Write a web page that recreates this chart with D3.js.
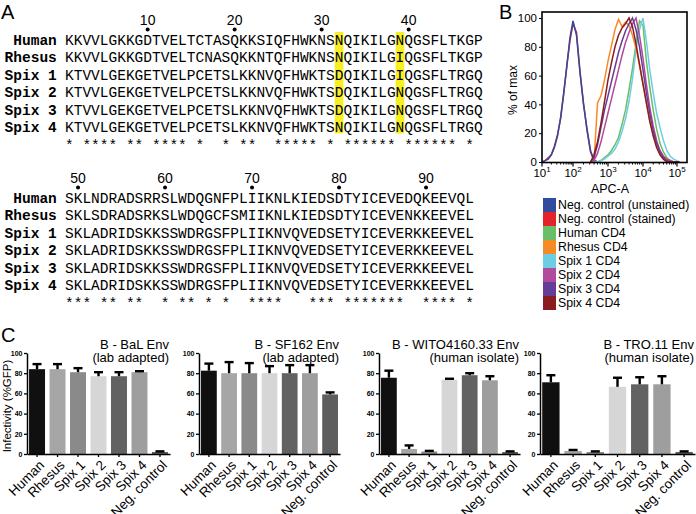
<html>
<head>
<meta charset="utf-8">
<script src="https://d3js.org/d3.v7.min.js"></script>
<style>
body { margin: 0; background: #fff; }
svg { display: block; font-family: "Liberation Sans", Arial, sans-serif; }
.mono { font-family: "Liberation Mono", "Courier New", monospace; }
</style>
</head>
<body>
<script>
// ---------- panel A : alignment ----------
var seqNames = ["Human", "Rhesus", "Spix 1", "Spix 2", "Spix 3", "Spix 4"];
var seqBlock1 = [
  "KKVVLGKKGDTVELTCTASQKKSIQFHWKNSNQIKILGNQGSFLTKGP",
  "KKVVLGKKGDTVELTCNASQKKNTQFHWKNSNQIKILGIQGSFLTKGP",
  "KTVVLGEKGETVELPCETSLKKNVQFHWKTSDQIKILGIQGSFLTRGQ",
  "KTVVLGEKGETVELPCETSLKKNVQFHWKTSDQIKILGNQGSFLTRGQ",
  "KTVVLGEKGETVELPCETSLKKNVQFHWKTSDQIKILGNQGSFLTRGQ",
  "KTVVLGEKGETVELPCETSLKKNVQFHWKTSNQIKILGNQGSFLTRGQ"
];
var seqBlock2 = [
  "SKLNDRADSRRSLWDQGNFPLIIKNLKIEDSDTYICEVEDQKEEVQL",
  "SKLSDRADSRKSLWDQGCFSMIIKNLKIEDSDTYICEVENKKEEVEL",
  "SKLADRIDSKKSSWDRGSFPLIIKNVQVEDSETYICEVERKKEEVEL",
  "SKLADRIDSKKSSWDRGSFPLIIKNVQVEDSETYICEVERKKEEVEL",
  "SKLADRIDSKKSSWDRGSFPLIIKNVQVEDSETYICEVERKKEEVEL",
  "SKLADRIDSKKSSWDRGSFPLIIKNVQVEDSETYICEVERKKEEVEL"
];
var block1Start = 1, block2Start = 49;
var marks1 = [10, 20, 30, 40];
var marks2 = [50, 60, 70, 80, 90];
var highlight1 = [32, 39];

// ---------- panel B : CD4 staining histograms ----------
var histLabels = ["Neg. control (unstained)", "Neg. control (stained)", "Human CD4", "Rhesus CD4",
                  "Spix 1 CD4", "Spix 2 CD4", "Spix 3 CD4", "Spix 4 CD4"];
var histColors = ["#2f4c9f", "#e3232a", "#68bf68", "#f68b26", "#6dcde2", "#b04a9c", "#663d96", "#8a1b1f"];
// log10(APC-A)
var negLog = [1.0, 1.1, 1.2, 1.3, 1.4, 1.5, 1.6, 1.7, 1.8, 1.9, 2.0, 2.1, 2.2, 2.3, 2.4, 2.5, 2.6, 2.7];
var negUnstained = [0, 1, 2, 5, 10, 18, 31, 48, 66, 86, 98, 88, 62, 40, 23, 8, 1, 0];
var negStained   = [0, 1, 3, 5, 11, 19, 30, 47, 67, 84, 96, 90, 63, 41, 22, 7, 1, 0];
var cd4Log = [2.5, 2.6, 2.7, 2.8, 2.9, 3.0, 3.1, 3.2, 3.3, 3.4, 3.5, 3.6, 3.7, 3.8, 3.9,
              4.0, 4.1, 4.2, 4.3, 4.4, 4.5, 4.6, 4.7, 4.8, 4.9, 5.0, 5.1];
var humanCd4  = [0, 0, 0, 1, 3, 5, 8, 12, 17, 26, 36, 50, 65, 82, 98, 95, 70, 52, 36, 23, 13, 7, 3, 1, 0, 0, 0];
var rhesusCd4 = [0, 0, 41, 46, 57, 70, 81, 92, 99, 94, 97, 95, 88, 79, 67, 54, 41, 29, 20, 12, 7, 4, 2, 1, 0, 0, 0];
var spix1Cd4  = [0, 0, 0, 1, 2, 4, 6, 9, 14, 21, 30, 42, 58, 78, 92, 100, 84, 64, 48, 34, 24, 15, 8, 4, 2, 1, 0];
var spix2Cd4  = [0, 1, 6, 14, 24, 34, 44, 54, 64, 74, 83, 90, 96, 100, 88, 72, 54, 38, 25, 15, 8, 4, 2, 1, 0, 0, 0];
var spix3Cd4  = [0, 3, 12, 24, 36, 46, 56, 66, 76, 84, 91, 96, 100, 92, 80, 64, 48, 34, 22, 13, 7, 3, 1, 0, 0, 0, 0];
var spix4Cd4  = [0, 5, 14, 27, 42, 57, 69, 80, 88, 93, 96, 100, 94, 82, 68, 54, 41, 28, 18, 10, 5, 2, 0, 0, 0, 0, 0];
var histTicks = [0, 20, 40, 60, 80, 100];
var decades = [1, 2, 3, 4, 5];

// ---------- panel C : infectivity ----------
var envCategories = ["Human", "Rhesus", "Spix 1", "Spix 2", "Spix 3", "Spix 4", "Neg. control"];
var envTitles = ["B - BaL Env", "B - SF162 Env", "B - WITO4160.33 Env", "B - TRO.11 Env"];
var envSubtitles = ["(lab adapted)", "(lab adapted)", "(human isolate)", "(human isolate)"];
var balMean   = [84, 84, 81, 77, 77, 81, 2];
var balErr    = [5, 5, 4, 4, 4, 1, 0.6];
var sf162Mean = [82.5, 80, 80, 80, 80, 80, 59];
var sf162Err  = [7, 11, 10, 7, 8, 8, 2];
var witoMean  = [75.5, 5, 2.5, 73.5, 78, 73, 2];
var witoErr   = [7, 3.5, 0.6, 1, 2, 4, 0.6];
var troMean   = [71, 3, 2, 66.5, 69, 69, 2];
var troErr    = [7, 1, 0.6, 9, 7, 8, 0.6];
var envTicks = [0, 20, 40, 60, 80, 100];
var barColors = ["#101010", "#a6a6a6", "#8a8a8a", "#d6d6d6", "#626262", "#9e9e9e", "#5e5e5e"];

var W = 696, H = 514;
var svg = d3.select("body").append("svg").attr("width", W).attr("height", H);
svg.append("rect").attr("width", W).attr("height", H).attr("fill", "#fff");

// panel letters
[["A", 1, 19], ["B", 499, 19], ["C", 1, 342]].forEach(function (p) {
  svg.append("text").attr("x", p[1]).attr("y", p[2]).attr("font-size", 20).text(p[0]);
});

// ===== A =====
var colX = d3.scaleLinear().domain([0, 48]).range([65, 65 + 48 * 8.7]);
var cw = colX(1) - colX(0);

function conserved(seqs) {
  var s = "";
  for (var j = 0; j < seqs[0].length; j++) {
    var c = seqs[0][j];
    s += seqs.every(function (q) { return q[j] === c; }) ? "*" : " ";
  }
  return s;
}

function drawBlock(seqs, startPos, marks, highlights, top) {
  var rowY = d3.scaleLinear().domain([0, 1]).range([top, top + 17.5]);
  var g = svg.append("g");
  highlights.forEach(function (p) {
    g.append("rect").attr("x", colX(p - startPos)).attr("width", cw)
      .attr("y", rowY(0) - 8).attr("height", rowY(5) - rowY(0) + 14)
      .attr("fill", "#f7ef22");
  });
  marks.forEach(function (p) {
    var cx = colX(p - startPos + 0.5);
    g.append("text").attr("x", cx).attr("y", top - 15).attr("text-anchor", "middle")
      .attr("font-size", 14).text(p);
    g.append("circle").attr("cx", cx).attr("cy", top - 10.5).attr("r", 2).attr("fill", "#000");
  });
  seqs.forEach(function (seq, i) {
    g.append("text").attr("class", "mono").attr("x", colX(-1) + 0.5).attr("y", rowY(i) + 4.5)
      .attr("text-anchor", "end").attr("font-weight", "bold").attr("font-size", 14.5)
      .text(seqNames[i]);
    g.selectAll(null).data(seq.split("")).enter().append("text")
      .attr("class", "mono").attr("font-size", 14.5).attr("text-anchor", "middle")
      .attr("x", function (d, j) { return colX(j + 0.5); })
      .attr("y", rowY(i) + 4.5).text(function (d) { return d; });
  });
  var stars = conserved(seqs).split("");
  g.selectAll(null).data(stars).enter().append("text")
    .attr("class", "mono").attr("font-size", 14.5).attr("text-anchor", "middle")
    .attr("x", function (d, j) { return colX(j + 0.5); })
    .attr("y", rowY(6) + 4.5).text(function (d) { return d === "*" ? "*" : ""; });
}
drawBlock(seqBlock1, block1Start, marks1, highlight1, 40);
drawBlock(seqBlock2, block2Start, marks2, [], 198);

// ===== B =====
var hx = d3.scaleLinear().domain([1, 2, 3, 4, 5, 5.42]).range([542, 573, 608, 643, 677, 687]);
var hy = d3.scaleLinear().domain([0, 100]).range([162, 18]);
var gB = svg.append("g");
gB.append("clipPath").attr("id", "hclip").append("rect")
  .attr("x", hx(1)).attr("y", 12).attr("width", hx(5.42) - hx(1)).attr("height", 151);

var histSeries = [
  [negLog, negStained, 1], [negLog, negUnstained, 0],
  [cd4Log, humanCd4, 2], [cd4Log, spix1Cd4, 4], [cd4Log, rhesusCd4, 3],
  [cd4Log, spix2Cd4, 5], [cd4Log, spix3Cd4, 6], [cd4Log, spix4Cd4, 7]
];
var hline = d3.line().x(function (d) { return hx(d[0]); }).y(function (d) { return hy(d[1]); });
var curves = gB.append("g").attr("clip-path", "url(#hclip)");
histSeries.forEach(function (s) {
  curves.append("path").attr("d", hline(d3.zip(s[0], s[1])))
    .attr("fill", "none").attr("stroke", histColors[s[2]]).attr("stroke-width", 1.5);
});
gB.append("rect").attr("x", hx(1)).attr("y", 12).attr("width", hx(5.42) - hx(1)).attr("height", 150.5)
  .attr("fill", "none").attr("stroke", "#000").attr("stroke-width", 1.6);

var yAx = gB.append("g").attr("transform", "translate(" + hx(1) + ",0)")
  .call(d3.axisLeft(hy).tickValues(histTicks).tickSize(3).tickSizeOuter(0));
yAx.select(".domain").remove();
yAx.selectAll("text").attr("font-size", 11.5).attr("font-family", "Liberation Sans, Arial").attr("dx", 1);

var minors = [];
decades.slice(0, 4).forEach(function (k) {
  for (var m = 2; m <= 9; m++) minors.push(k + Math.log10(m));
});
var xAx = gB.append("g").attr("transform", "translate(0," + 162.5 + ")");
xAx.selectAll(".mj").data(decades).enter().append("line")
  .attr("x1", hx).attr("x2", hx).attr("y1", 0).attr("y2", 4).attr("stroke", "#000").attr("stroke-width", 1.2);
xAx.selectAll(".mn").data(minors).enter().append("line")
  .attr("x1", hx).attr("x2", hx).attr("y1", 0).attr("y2", 2).attr("stroke", "#000").attr("stroke-width", 1);
decades.forEach(function (k) {
  var t = xAx.append("text").attr("x", hx(k)).attr("y", 14).attr("text-anchor", "middle").attr("font-size", 11.5);
  t.append("tspan").text("10");
  t.append("tspan").attr("dy", -5).attr("font-size", 8).text(k);
});
gB.append("text").attr("x", 610).attr("y", 193).attr("text-anchor", "middle").attr("font-size", 12.5).text("APC-A");
gB.append("text").attr("transform", "translate(517,90) rotate(-90)").attr("text-anchor", "middle")
  .attr("font-size", 12).text("% of max");

var legY = d3.scaleBand().domain(histLabels).range([198, 198 + 14 * 8]);
var leg = gB.selectAll(".leg").data(histLabels).enter().append("g");
leg.append("rect").attr("x", 543).attr("y", function (d) { return legY(d); })
  .attr("width", 13).attr("height", legY.bandwidth())
  .attr("fill", function (d, i) { return histColors[i]; });
leg.append("text").attr("x", 558).attr("y", function (d) { return legY(d) + legY.bandwidth() / 2 + 4.3; })
  .attr("font-size", 12.3).text(function (d) { return d; });

// ===== C =====
var envMeans = [balMean, sf162Mean, witoMean, troMean];
var envErrs = [balErr, sf162Err, witoErr, troErr];
var envLeft = [27, 199, 379, 540];
var envRight = [170, 340, 520, 695];
var ey = d3.scaleLinear().domain([0, 100]).range([454, 353]);

envMeans.forEach(function (means, k) {
  var g = svg.append("g");
  var bx = d3.scaleBand().domain(envCategories).range([envLeft[k], envRight[k]])
    .paddingInner(0.22).paddingOuter(0.1);
  g.selectAll(".bar").data(envCategories).enter().append("rect")
    .attr("x", function (d) { return bx(d); }).attr("width", bx.bandwidth())
    .attr("y", function (d, i) { return ey(means[i]); })
    .attr("height", function (d, i) { return ey(0) - ey(means[i]); })
    .attr("fill", function (d, i) { return barColors[i]; });
  var errs = envErrs[k];
  envCategories.forEach(function (c, i) {
    var cx = bx(c) + bx.bandwidth() / 2;
    var top = ey(means[i] + errs[i]);
    g.append("line").attr("x1", cx).attr("x2", cx).attr("y1", ey(means[i])).attr("y2", top)
      .attr("stroke", "#000").attr("stroke-width", 2.4);
    g.append("line").attr("x1", cx - 4.5).attr("x2", cx + 4.5).attr("y1", top).attr("y2", top)
      .attr("stroke", "#000").attr("stroke-width", 2.4);
  });
  var ya = g.append("g").attr("transform", "translate(" + envLeft[k] + ",0)")
    .call(d3.axisLeft(ey).tickValues(envTicks).tickSize(3).tickSizeOuter(0));
  ya.select(".domain").attr("stroke-width", 1.5);
  ya.selectAll("line").attr("stroke-width", 1.3);
  ya.selectAll("text").attr("font-size", 7).attr("font-weight", "bold").attr("dx", 1.5)
    .attr("font-family", "Liberation Sans, Arial");
  var xa = g.append("g").attr("transform", "translate(0," + ey(0) + ")")
    .call(d3.axisBottom(bx).tickSize(3).tickSizeOuter(0));
  xa.select(".domain").attr("stroke-width", 1.5);
  xa.selectAll("line").attr("stroke-width", 1.3);
  xa.selectAll("text").attr("font-size", 13.5).attr("font-family", "Liberation Sans, Arial")
    .attr("text-anchor", "end").attr("y", 0).attr("dy", null)
    .attr("transform", "translate(8,12) rotate(-45)");
  g.append("text").attr("x", envRight[k] - 1).attr("y", 349).attr("text-anchor", "end")
    .attr("font-size", 13).text(envTitles[k]);
  g.append("text").attr("x", envRight[k] - 1).attr("y", 362).attr("text-anchor", "end")
    .attr("font-size", 13).text(envSubtitles[k]);
});
svg.append("text").attr("transform", "translate(11,406) rotate(-90)").attr("text-anchor", "middle")
  .attr("font-size", 11.5).text("Infectivity (%GFP)");
</script>
</body>
</html>
